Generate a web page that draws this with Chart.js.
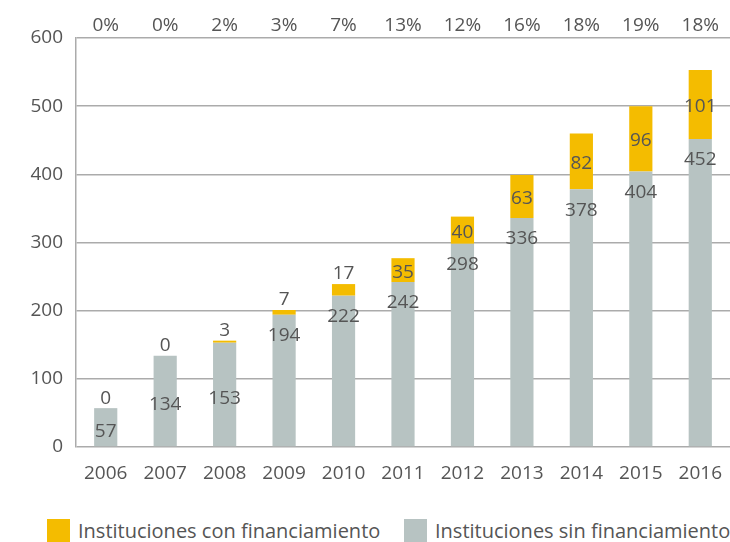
<!DOCTYPE html>
<html>
<head>
<meta charset="utf-8">
<script src="https://cdn.jsdelivr.net/npm/chart.js@4"></script>
<style>
  html, body { margin: 0; padding: 0; background: #fff; }
  body { width: 730px; height: 542px; position: relative; overflow: hidden; font-family: "Open Sans", sans-serif; color: #555; }
  #wrap { position: absolute; left: 0; top: 0; width: 730px; height: 500px; }
  .legend-item { position: absolute; top: 518px; height: 24px; display: flex; align-items: center; font-size: 20px; white-space: nowrap; }
  .legend-box { width: 23px; height: 23px; margin-right: 8px; }
</style>
</head>
<body>
<div id="wrap"><canvas id="chart" width="730" height="500"></canvas></div>
<div id="legend"></div>
<script>
const years = ["2006", "2007", "2008", "2009", "2010", "2011", "2012", "2013", "2014", "2015", "2016"];
const sinFinanciamiento = [57, 134, 153, 194, 222, 242, 298, 336, 378, 404, 452];
const conFinanciamiento = [0, 0, 3, 7, 17, 35, 40, 63, 82, 96, 101];
const shareLabels = ["0%", "0%", "2%", "3%", "7%", "13%", "12%", "16%", "18%", "19%", "18%"];
const yTicks = [0, 100, 200, 300, 400, 500, 600];

const GREY = "#b7c3c2";
const YELLOW = "#f4bc00";
const TEXT = "#555555";
const FONT = "'Open Sans', sans-serif";

// value labels drawn on/above each segment
const valueLabels = {
  id: "valueLabels",
  afterDatasetsDraw(chart) {
    const ctx = chart.ctx;
    ctx.save();
    ctx.font = "19px " + FONT;
    ctx.fillStyle = TEXT;
    ctx.textAlign = "center";
    ctx.textBaseline = "middle";
    chart.data.datasets.forEach((ds, di) => {
      const meta = chart.getDatasetMeta(di);
      meta.data.forEach((bar, i) => {
        const v = ds.data[i];
        let y;
        if (di === 0) {
          y = v < 160 ? (bar.y + bar.base) / 2 + 4 : bar.y + 21;
        } else {
          y = v >= 30 ? (bar.y + bar.base) / 2 + 2 : bar.y - 10;
        }
        ctx.fillText(String(v), bar.x, y);
      });
    });
    ctx.restore();
  },
};

const chart = new Chart(document.getElementById("chart"), {
  type: "bar",
  data: {
    labels: years,
    datasets: [
      {
        label: "Instituciones sin financiamiento",
        data: sinFinanciamiento,
        backgroundColor: GREY,
        barPercentage: 0.39,
        categoryPercentage: 1,
      },
      {
        label: "Instituciones con financiamiento",
        data: conFinanciamiento,
        backgroundColor: YELLOW,
        barPercentage: 0.39,
        categoryPercentage: 1,
      },
    ],
  },
  options: {
    responsive: false,
    animation: false,
    layout: { padding: 0 },
    plugins: { legend: { display: false }, tooltip: { enabled: false } },
    scales: {
      x: {
        stacked: true,
        position: "bottom",
        grid: { display: false },
        border: { display: false },
        ticks: { color: TEXT, font: { family: FONT, size: 19 }, padding: 7, maxRotation: 0 },
        afterFit: (s) => { s.height = 53; },
      },
      xTop: {
        type: "category",
        labels: shareLabels,
        position: "top",
        offset: true,
        grid: { display: false, drawTicks: false },
        border: { display: false },
        ticks: { color: TEXT, font: { family: FONT, size: 19 }, padding: 1, maxRotation: 0 },
        afterFit: (s) => { s.height = 38; },
      },
      y: {
        stacked: true,
        min: 0,
        max: 600,
        afterBuildTicks: (s) => { s.ticks = yTicks.map((v) => ({ value: v })); },
        grid: { color: "#ababab", lineWidth: 1.5, drawTicks: false },
        border: { display: true, color: "#ababab", width: 1.5 },
        ticks: { color: TEXT, font: { family: FONT, size: 19 }, padding: 13 },
        afterFit: (s) => { s.width = 76; },
      },
    },
  },
  plugins: [valueLabels],
});

// html legend, yellow first
const legend = document.getElementById("legend");
const lefts = [47, 404];
chart.data.datasets.slice().reverse().forEach((ds, i) => {
  const item = document.createElement("div");
  item.className = "legend-item";
  item.style.left = lefts[i] + "px";
  item.innerHTML = '<span class="legend-box" style="background:' + ds.backgroundColor + '"></span>' + ds.label;
  legend.appendChild(item);
});
</script>
</body>
</html>
